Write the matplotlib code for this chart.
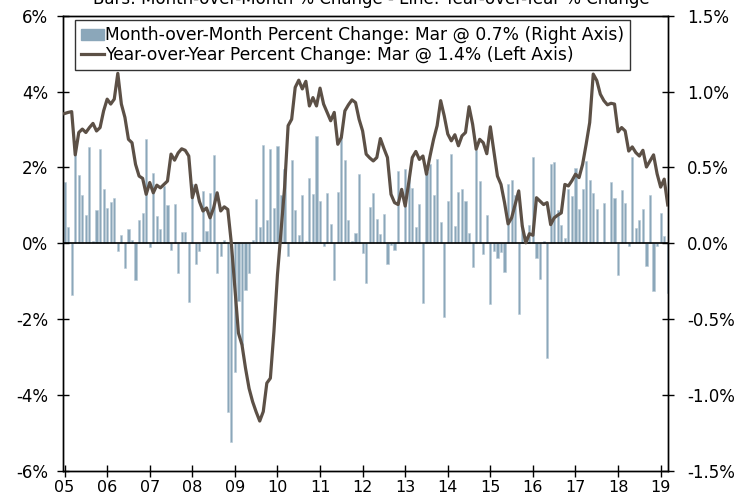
import numpy as np
import matplotlib
matplotlib.use("Agg")
import matplotlib.pyplot as plt
from matplotlib.patches import Patch
from matplotlib.lines import Line2D
from matplotlib.transforms import ScaledTranslation

plt.rcParams['font.family'] = ['DejaVu Sans']
plt.rcParams['axes.unicode_minus'] = False

# monthly data, Jan 2005 - Mar 2019
yoy = [3.42, 3.45, 3.47, 2.33, 2.92, 3.01, 2.92, 3.05, 3.16, 2.96, 3.05, 3.49,
       3.80, 3.67, 3.80, 4.48, 3.67, 3.32, 2.74, 2.65, 2.08, 1.77, 1.71, 1.29,
       1.60, 1.33, 1.53, 1.46, 1.55, 1.64, 2.35, 2.19, 2.38, 2.49, 2.45, 2.30,
       1.20, 1.53, 1.10, 0.85, 0.93, 0.67, 0.93, 1.33, 0.85, 0.96, 0.89, 0.00,
       -1.20, -2.37, -2.68, -3.30, -3.83, -4.18, -4.45, -4.69, -4.44, -3.69, -3.56, -2.33,
       -0.83, 0.30, 1.46, 3.10, 3.27, 4.11, 4.30, 4.07, 4.27, 3.62, 3.84, 3.62,
       4.09, 3.67, 3.45, 3.23, 3.45, 2.61, 2.79, 3.49, 3.65, 3.78, 3.71, 3.27,
       2.96, 2.35, 2.25, 2.17, 2.26, 2.76, 2.50, 2.26, 1.29, 1.07, 1.02, 1.42,
       0.98, 1.60, 2.26, 2.42, 2.21, 2.30, 1.82, 2.30, 2.74, 3.10, 3.76, 3.36,
       2.88, 2.70, 2.86, 2.57, 2.83, 2.92, 3.60, 3.14, 2.48, 2.74, 2.65, 2.36,
       3.07, 2.43, 1.77, 1.55, 1.07, 0.51, 0.67, 1.02, 1.38, 0.45, 0.01, 0.25,
       0.21, 1.20, 1.11, 1.02, 1.07, 0.49, 0.67, 0.74, 0.80, 1.55, 1.51, 1.65,
       1.82, 1.73, 2.08, 2.61, 3.18, 4.46, 4.29, 3.93, 3.76, 3.65, 3.69, 3.67,
       2.94, 3.05, 2.96, 2.43, 2.54, 2.39, 2.30, 2.45, 2.01, 2.17, 2.33, 1.83,
       1.48, 1.69, 1.01]

mom = [0.405, 0.108, -0.34, 0.675, 0.448, 0.32, 0.185, 0.637, 0.013, 0.22, 0.62, 0.36,
       0.23, 0.27, 0.30, -0.053, 0.057, -0.163, 0.097, 0.02, -0.245, 0.152, 0.196, 0.69,
       -0.025, 0.46, 0.18, 0.097, 0.377, 0.25, -0.046, 0.26, -0.196, 0.073, 0.073, -0.39,
       0.388, -0.14, -0.053, 0.344, 0.08, 0.333, 0.58, -0.196, -0.086, 0.02, -1.11, -1.31,
       -0.85, -0.38, -0.67, -0.31, -0.196, 0.02, 0.29, 0.108, 0.648, 0.15, 0.62, 0.23,
       0.64, 0.317, 0.49, -0.086, 0.55, 0.22, 0.057, 0.32, 0.013, 0.43, 0.326, 0.705,
       0.278, -0.02, 0.33, 0.124, -0.24, 0.34, 0.714, 0.55, 0.15, 0.013, 0.068, 0.454,
       -0.064, -0.26, 0.24, 0.333, 0.157, 0.06, 0.19, -0.134, -0.01, -0.042, 0.476, 0.01,
       0.487, 0.443, 0.362, 0.108, 0.26, -0.395, 0.47, 0.52, 0.32, 0.553, 0.14, -0.487,
       0.278, 0.587, 0.112, 0.337, 0.36, 0.278, 0.068, -0.157, 0.615, 0.41, -0.068, 0.185,
       -0.40, -0.05, -0.10, -0.06, -0.19, 0.388, 0.415, 0.32, -0.465, 0.12, 0.05, 0.12,
       0.57, -0.10, -0.233, 0.013, -0.758, 0.524, 0.536, 0.22, 0.12, 0.035, 0.355, 0.31,
       0.494, 0.227, 0.355, 0.542, 0.42, 0.333, 0.227, 0.01, 0.267, 0.005, 0.405, 0.30,
       -0.21, 0.35, 0.262, -0.02, 0.569, 0.10, 0.15, 0.227, -0.152, 0.317, -0.317, -0.02,
       0.196, 0.05, -0.33]

year_ticks = list(range(2005, 2020))
year_labels = ['%02d' % (y % 100) for y in year_ticks]
left_ticks = [-6, -4, -2, 0, 2, 4, 6]
right_ticks = [-1.5, -1.0, -0.5, 0.0, 0.5, 1.0, 1.5]

t = 2005 + np.arange(len(yoy)) / 12.0

bar_color = '#8ba7ba'
line_color = '#5c5046'

fig = plt.figure(figsize=(7.51, 4.99), dpi=100)
ax = fig.add_axes([0.0843, 0.0567, 0.8056, 0.9118])
ax2 = ax.twinx()

# bars on the right axis, line on the left axis (line drawn on top)
ax2.bar(t, mom, width=0.05, color=bar_color, edgecolor='#b8cad6', linewidth=0.4, zorder=1)
ax2.axhline(0, color='black', linewidth=1.2, zorder=2)
ax2.set_ylim(-1.5, 1.5)
ax.set_zorder(ax2.get_zorder() + 1)
ax.patch.set_visible(False)
ax.plot(t, yoy, color=line_color, linewidth=2.3, zorder=3)
ax.set_ylim(-6, 6)
ax.set_xlim(2004.97, 2019.18)

ax.set_yticks(left_ticks)
ax.set_yticklabels(['%d%%' % v for v in left_ticks])
ax2.set_yticks(right_ticks)
ax2.set_yticklabels(['%.1f%%' % v for v in right_ticks])
ax.set_xticks(year_ticks)
ax.set_xticklabels(year_labels)
shift = ScaledTranslation(2 / 100, 0, fig.dpi_scale_trans)
for lab in ax.get_xticklabels():
    lab.set_transform(lab.get_transform() + shift)

ax.tick_params(axis='y', direction='inout', length=8, width=1, labelsize=12, pad=7)
ax2.tick_params(axis='y', direction='inout', length=8, width=1, labelsize=12, pad=9.5)
ax.tick_params(axis='x', direction='inout', length=8, width=1, labelsize=11.5, pad=2.5)
for a in (ax, ax2):
    for s in a.spines.values():
        s.set_linewidth(1)

handles = [Patch(facecolor=bar_color, edgecolor=bar_color),
           Line2D([0], [0], color=line_color, linewidth=2.3)]
labels = ['Month-over-Month Percent Change: Mar @ 0.7% (Right Axis)',
          'Year-over-Year Percent Change: Mar @ 1.4% (Left Axis)']
leg = ax.legend(handles, labels, loc='upper left', bbox_to_anchor=(0.019, 0.99),
                fontsize=12.3, frameon=True, fancybox=False, edgecolor='black',
                handlelength=1.35, handleheight=0.6, handletextpad=0.05,
                borderpad=0.35, labelspacing=0.1, borderaxespad=0)
leg.get_frame().set_linewidth(1)

fig.text(0.495, 1 - 4 / 499, 'Bars: Month-over-Month % Change - Line: Year-over-Year % Change',
         ha='center', va='baseline', fontsize=12)

fig.savefig('out.png', dpi=100)
